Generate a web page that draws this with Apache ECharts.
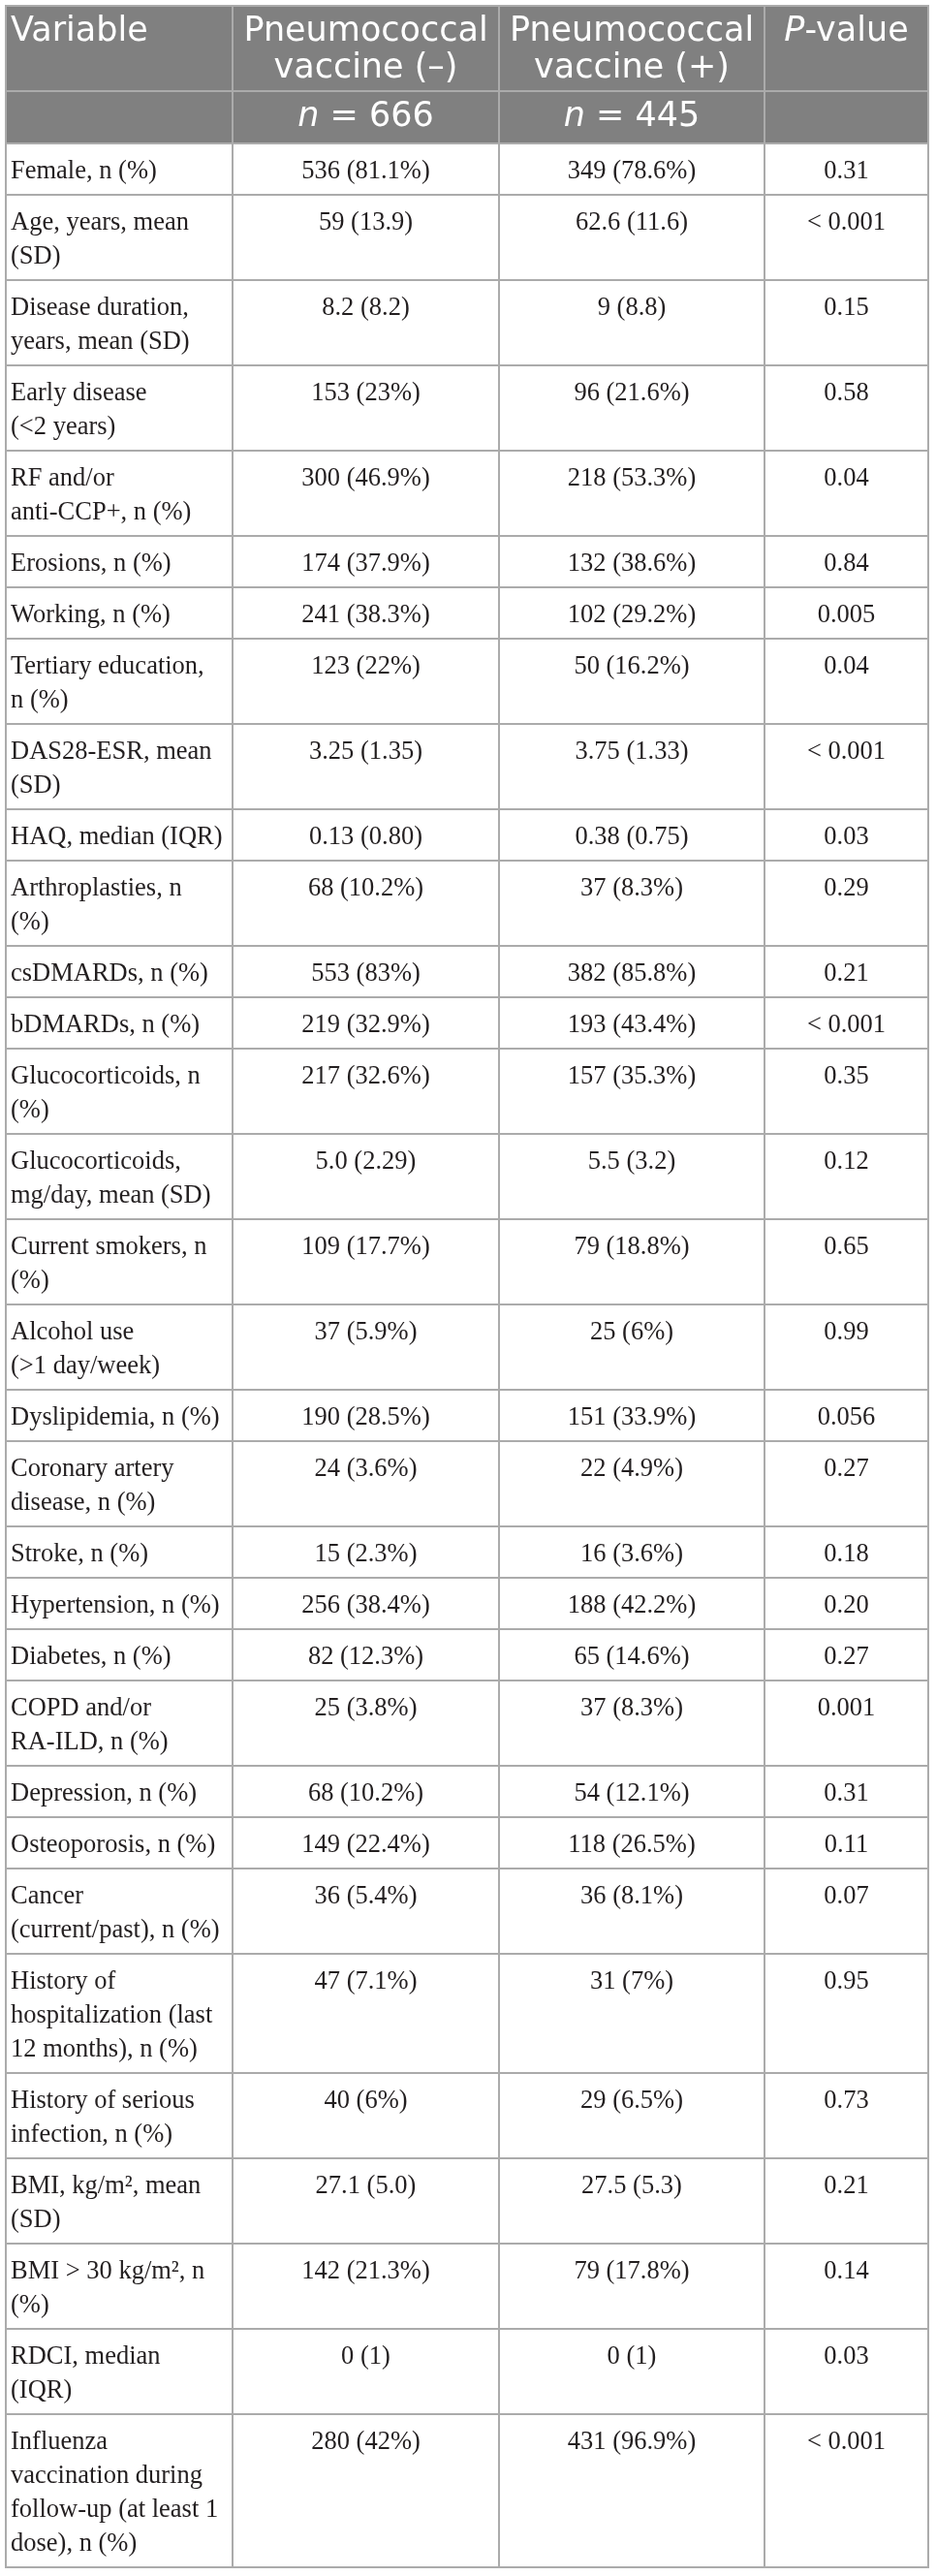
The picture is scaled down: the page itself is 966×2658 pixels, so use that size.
<!DOCTYPE html>
<html>
<head>
<meta charset="utf-8">
<title>Baseline characteristics by pneumococcal vaccination</title>
<script src="https://cdn.jsdelivr.net/npm/echarts@6/dist/echarts.min.js"></script>
<style>
    html, body { margin: 0; padding: 0; background: #fff; }
    #chart-container { width: 966px; height: 2658px; }
</style>
</head>
<body>
<div id="chart-container"></div>
<script>
    // table content
    var headers = ['Variable', 'Pneumococcal\nvaccine (–)', 'Pneumococcal\nvaccine (+)', '{i|P}{h|-value}'];
    var groupN = [null, 666, 445, null];

    var variables = [
        'Female, n (%)',
        'Age, years, mean\n(SD)',
        'Disease duration,\nyears, mean (SD)',
        'Early disease\n(<2 years)',
        'RF and/or\nanti-CCP+, n (%)',
        'Erosions, n (%)',
        'Working, n (%)',
        'Tertiary education,\nn (%)',
        'DAS28-ESR, mean\n(SD)',
        'HAQ, median (IQR)',
        'Arthroplasties, n\n(%)',
        'csDMARDs, n (%)',
        'bDMARDs, n (%)',
        'Glucocorticoids, n\n(%)',
        'Glucocorticoids,\nmg/day, mean (SD)',
        'Current smokers, n\n(%)',
        'Alcohol use\n(>1 day/week)',
        'Dyslipidemia, n (%)',
        'Coronary artery\ndisease, n (%)',
        'Stroke, n (%)',
        'Hypertension, n (%)',
        'Diabetes, n (%)',
        'COPD and/or\nRA-ILD, n (%)',
        'Depression, n (%)',
        'Osteoporosis, n (%)',
        'Cancer\n(current/past), n (%)',
        'History of\nhospitalization (last\n12 months), n (%)',
        'History of serious\ninfection, n (%)',
        'BMI, kg/m², mean\n(SD)',
        'BMI > 30 kg/m², n\n(%)',
        'RDCI, median\n(IQR)',
        'Influenza\nvaccination during\nfollow-up (at least 1\ndose), n (%)'
    ];

    var vaccineNeg = [
        '536 (81.1%)', '59 (13.9)', '8.2 (8.2)', '153 (23%)', '300 (46.9%)',
        '174 (37.9%)', '241 (38.3%)', '123 (22%)', '3.25 (1.35)', '0.13 (0.80)',
        '68 (10.2%)', '553 (83%)', '219 (32.9%)', '217 (32.6%)', '5.0 (2.29)',
        '109 (17.7%)', '37 (5.9%)', '190 (28.5%)', '24 (3.6%)', '15 (2.3%)',
        '256 (38.4%)', '82 (12.3%)', '25 (3.8%)', '68 (10.2%)', '149 (22.4%)',
        '36 (5.4%)', '47 (7.1%)', '40 (6%)', '27.1 (5.0)', '142 (21.3%)',
        '0 (1)', '280 (42%)'
    ];

    var vaccinePos = [
        '349 (78.6%)', '62.6 (11.6)', '9 (8.8)', '96 (21.6%)', '218 (53.3%)',
        '132 (38.6%)', '102 (29.2%)', '50 (16.2%)', '3.75 (1.33)', '0.38 (0.75)',
        '37 (8.3%)', '382 (85.8%)', '193 (43.4%)', '157 (35.3%)', '5.5 (3.2)',
        '79 (18.8%)', '25 (6%)', '151 (33.9%)', '22 (4.9%)', '16 (3.6%)',
        '188 (42.2%)', '65 (14.6%)', '37 (8.3%)', '54 (12.1%)', '118 (26.5%)',
        '36 (8.1%)', '31 (7%)', '29 (6.5%)', '27.5 (5.3)', '79 (17.8%)',
        '0 (1)', '431 (96.9%)'
    ];

    var pValues = [
        '0.31', '< 0.001', '0.15', '0.58', '0.04',
        '0.84', '0.005', '0.04', '< 0.001', '0.03',
        '0.29', '0.21', '< 0.001', '0.35', '0.12',
        '0.65', '0.99', '0.056', '0.27', '0.18',
        '0.20', '0.27', '0.001', '0.31', '0.11',
        '0.07', '0.95', '0.73', '0.21', '0.14',
        '0.03', '< 0.001'
    ];

    // layout
    var colWidths = [234, 275, 274, 169];
    var headerHeights = [88, 54];
    var rowPad = 18, lineH = 35;
    var headFont = "35px 'DejaVu Sans', sans-serif";
    var headItalic = "italic 35px 'DejaVu Sans', sans-serif";
    var bodyFont = "26.5px 'Liberation Serif', 'DejaVu Serif', serif";

    var colEdges = [0];
    colWidths.forEach(function (w, i) { colEdges.push(colEdges[i] + w); });

    // row heights follow the number of text lines in the variable column
    var rowEdges = [0, headerHeights[0], headerHeights[0] + headerHeights[1]];
    variables.forEach(function (v) {
        var lines = v.split('\n').length;
        rowEdges.push(rowEdges[rowEdges.length - 1] + rowPad + lines * lineH);
    });
    var totalW = colEdges[colEdges.length - 1];
    var totalH = rowEdges[rowEdges.length - 1];

    var columns = [variables, vaccineNeg, vaccinePos, pValues];
    var cells = [];
    var texts = [];
    for (var r = 0; r < rowEdges.length - 1; r++) {
        for (var c = 0; c < 4; c++) {
            var t;
            if (r === 0) t = headers[c];
            else if (r === 1) t = groupN[c] == null ? '' : '{i|n}{h| = ' + groupN[c] + '}';
            else t = columns[c][r - 2];
            cells.push([colEdges[c], colEdges[c + 1], rowEdges[r], rowEdges[r + 1], r, c]);
            texts.push(t);
        }
    }

    var headRich = {
        i: { font: headItalic, fill: '#fff', lineHeight: 38 },
        h: { font: headFont, fill: '#fff', lineHeight: 38 }
    };

    function renderItem(params, api) {
        var p0 = api.coord([api.value(0), api.value(2)]);
        var p1 = api.coord([api.value(1), api.value(3)]);
        var r = api.value(4), c = api.value(5);
        var head = r < 2;
        var tx = c === 0 ? p0[0] + 5 : (p0[0] + p1[0]) / 2;
        var ty, va = 'top';
        if (r === 0) ty = p0[1] + 8;
        else if (r === 1) { ty = (p0[1] + p1[1]) / 2; va = 'middle'; }
        else ty = p0[1] + 11.5;

        var style = {
            text: texts[params.dataIndex],
            font: head ? headFont : bodyFont,
            lineHeight: head ? 38 : lineH,
            fill: head ? '#fff' : '#231f20',
            align: c === 0 ? 'left' : 'center',
            verticalAlign: va
        };
        if (head) style.rich = headRich;

        return {
            type: 'group',
            children: [{
                type: 'rect',
                shape: { x: p0[0], y: p0[1], width: p1[0] - p0[0], height: p1[1] - p0[1] },
                style: { fill: head ? '#808080' : '#fff', stroke: '#ababab', lineWidth: 2 }
            }, {
                type: 'text',
                x: tx,
                y: ty,
                style: style
            }]
        };
    }

    var myChart = echarts.init(document.getElementById('chart-container'));

    var option = {
        animation: false,
        grid: { left: 6, top: 6, width: totalW, height: totalH },
        xAxis: { type: 'value', min: 0, max: totalW, show: false },
        yAxis: { type: 'value', min: 0, max: totalH, inverse: true, show: false },
        series: [{
            type: 'custom',
            renderItem: renderItem,
            clip: false,
            encode: { x: [0, 1], y: [2, 3] },
            data: cells
        }]
    };

    myChart.setOption(option);
</script>
</body>
</html>
